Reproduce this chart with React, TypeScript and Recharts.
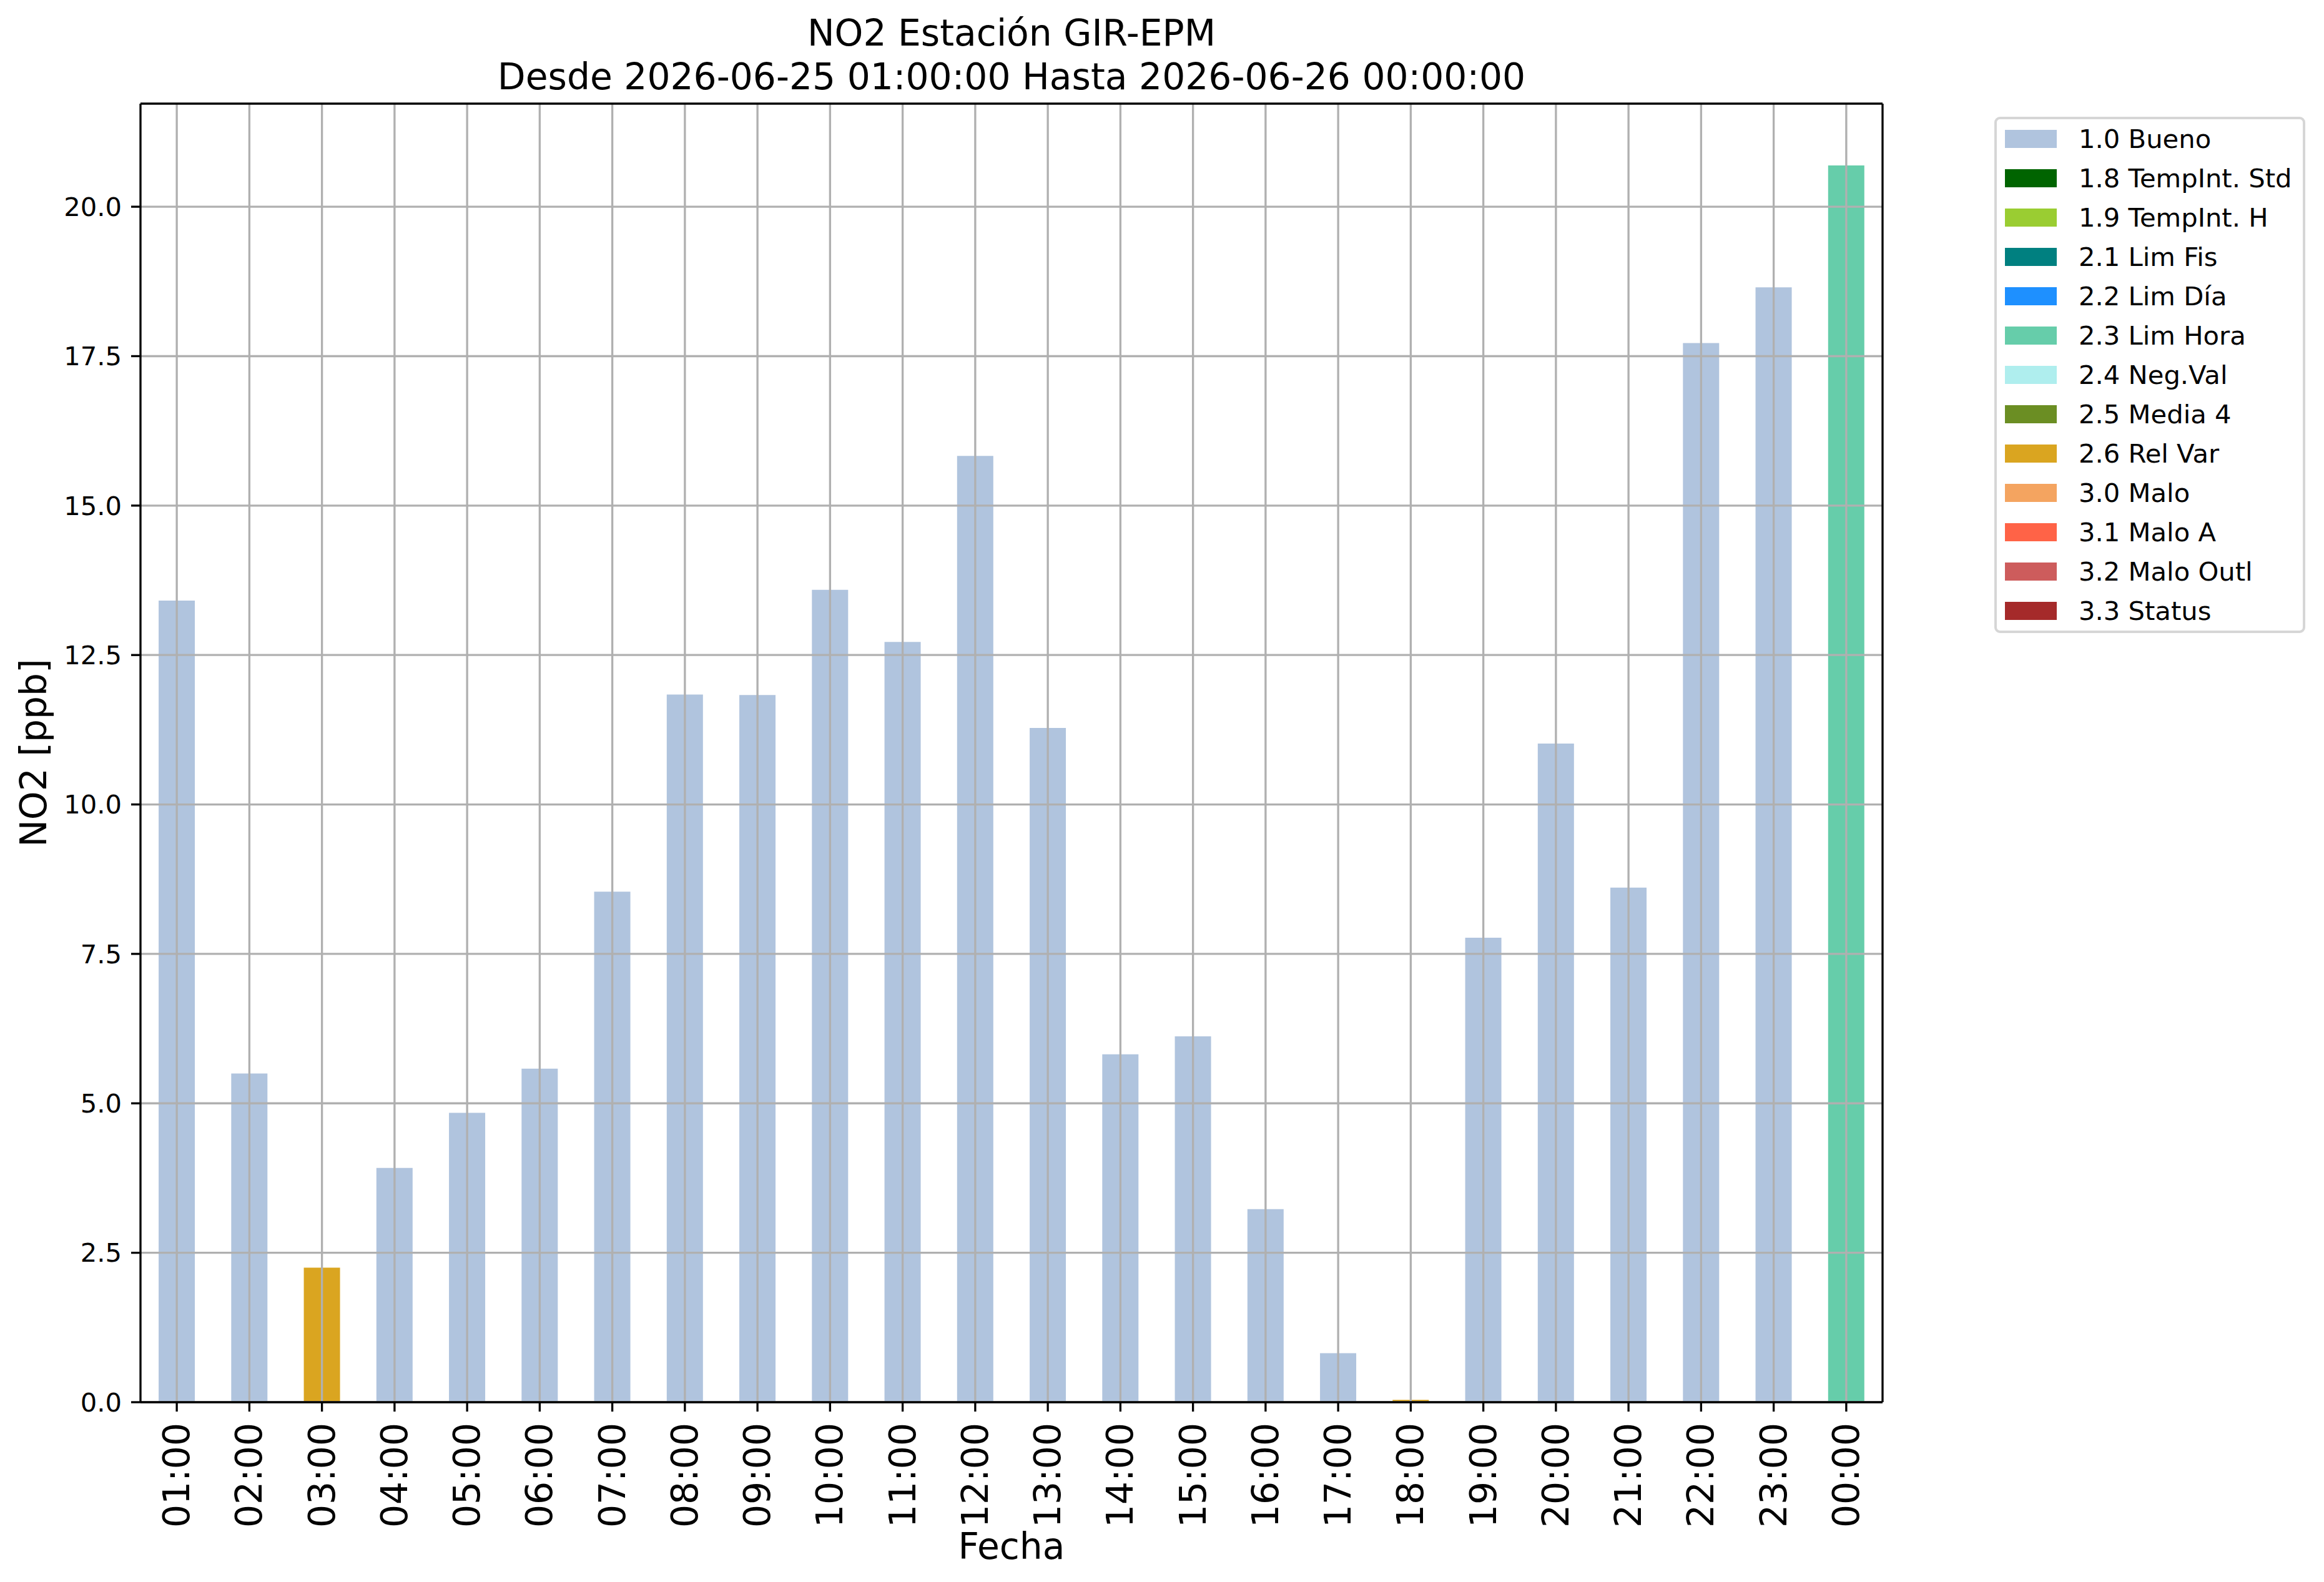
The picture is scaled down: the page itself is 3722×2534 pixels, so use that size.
import React from 'react';
import { BarChart, Bar, XAxis, YAxis, CartesianGrid, Legend } from 'recharts';

const hours = ['01:00','02:00','03:00','04:00','05:00','06:00','07:00','08:00','09:00','10:00','11:00','12:00','13:00','14:00','15:00','16:00','17:00','18:00','19:00','20:00','21:00','22:00','23:00','00:00'];
const values = [13.41, 5.50, 2.25, 3.92, 4.84, 5.58, 8.54, 11.84, 11.83, 13.59, 12.72, 15.83, 11.28, 5.82, 6.12, 3.23, 0.82, 0.04, 7.77, 11.02, 8.61, 17.72, 18.65, 20.69];
const flags = ['1.0 Bueno','1.0 Bueno','2.6 Rel Var','1.0 Bueno','1.0 Bueno','1.0 Bueno','1.0 Bueno','1.0 Bueno','1.0 Bueno','1.0 Bueno','1.0 Bueno','1.0 Bueno','1.0 Bueno','1.0 Bueno','1.0 Bueno','1.0 Bueno','1.0 Bueno','2.6 Rel Var','1.0 Bueno','1.0 Bueno','1.0 Bueno','1.0 Bueno','1.0 Bueno','2.3 Lim Hora'];

const seriesNames = ['1.0 Bueno','1.8 TempInt. Std','1.9 TempInt. H','2.1 Lim Fis','2.2 Lim Día','2.3 Lim Hora','2.4 Neg.Val','2.5 Media 4','2.6 Rel Var','3.0 Malo','3.1 Malo A','3.2 Malo Outl','3.3 Status'];
const seriesColors = ['#b0c4de','#006400','#9acd32','#008080','#1e90ff','#66cdaa','#afeeee','#6b8e23','#daa520','#f4a460','#ff6347','#cd5c5c','#a52a2a'];

const yTicks = [0, 2.5, 5, 7.5, 10, 12.5, 15, 17.5, 20];

const titleLine1 = 'NO2 Estación GIR-EPM';
const titleLine2 = 'Desde 2026-06-25 01:00:00 Hasta 2026-06-26 00:00:00';
const xLabel = 'Fecha';
const yLabel = 'NO2 [ppb]';

const data = hours.map((h, i) => {
  const row: Record<string, any> = { hour: h };
  row[flags[i]] = values[i];
  return row;
});

const yMax = Math.max(...values) * 1.05;

const FONT = '"DejaVu Sans", sans-serif';
const W = 3722;
const H = 2534;
const LW = 3.33;

const XTick = (props: any) => {
  const { x, y, payload } = props;
  return (
    <text
      x={x}
      y={y}
      transform={`rotate(-90, ${x}, ${y})`}
      textAnchor="end"
      dominantBaseline="central"
      fontFamily={FONT}
      fontSize={58.3}
      fill="#000"
    >
      {payload.value}
    </text>
  );
};

const LegendBox = () => (
  <div
    style={{
      boxSizing: 'border-box',
      width: 498,
      height: 827,
      border: '4px solid #d6d6d6',
      borderRadius: 9,
      background: '#fff',
      paddingLeft: 13,
      fontFamily: FONT,
      fontSize: 41.7,
      color: '#000',
    }}
  >
    {seriesNames.map((n, i) => (
      <div key={n} style={{ display: 'flex', alignItems: 'center', height: 63 }}>
        <div style={{ width: 83, height: 29, background: seriesColors[i], flexShrink: 0 }} />
        <span style={{ marginLeft: 35, whiteSpace: 'nowrap', lineHeight: 1 }}>{n}</span>
      </div>
    ))}
  </div>
);

export default function App() {
  return (
    <div style={{ position: 'absolute', left: 0, top: 0, width: W, height: H, background: '#fff' }}>
      <BarChart
        width={W}
        height={H}
        data={data}
        margin={{ top: 165, right: 706, bottom: 0, left: 0 }}
        barCategoryGap="25%"
      >
        <XAxis
          dataKey="hour"
          height={288}
          interval={0}
          tick={<XTick />}
          tickSize={15}
          tickMargin={18}
          axisLine={{ stroke: '#000', strokeWidth: LW }}
          tickLine={{ stroke: '#000', strokeWidth: LW }}
          zIndex={700}
        />
        <XAxis
          xAxisId="top"
          orientation="top"
          dataKey="hour"
          height={1}
          tick={false}
          tickLine={false}
          axisLine={{ stroke: '#000', strokeWidth: LW }}
          zIndex={700}
        />
        <YAxis
          width={225}
          domain={[0, yMax]}
          ticks={yTicks}
          interval={0}
          allowDataOverflow
          tickFormatter={(v: number) => v.toFixed(1)}
          tick={{ fill: '#000', fontSize: 41.7, fontFamily: FONT }}
          tickSize={15}
          tickMargin={15}
          axisLine={{ stroke: '#000', strokeWidth: LW }}
          tickLine={{ stroke: '#000', strokeWidth: LW }}
          zIndex={700}
        />
        <YAxis
          yAxisId="right"
          orientation="right"
          width={1}
          domain={[0, yMax]}
          tick={false}
          tickLine={false}
          axisLine={{ stroke: '#000', strokeWidth: LW }}
          zIndex={700}
        />
        {seriesNames.map((n, i) => (
          <Bar
            key={n}
            dataKey={n}
            name={n}
            stackId="q"
            fill={seriesColors[i]}
            isAnimationActive={false}
          />
        ))}
        <CartesianGrid
          stroke="#b0b0b0"
          strokeWidth={LW}
          syncWithTicks
          zIndex={500}
        />
        <Legend
          layout="vertical"
          align="center"
          verticalAlign="middle"
          wrapperStyle={{ left: 3194, top: 187, width: 498, height: 827 }}
          content={() => <LegendBox />}
        />
      </BarChart>
      <svg
        width={W}
        height={H}
        style={{ position: 'absolute', left: 0, top: 0, pointerEvents: 'none' }}
      >
        <text x={1620} y={73} textAnchor="middle" fontFamily={FONT} fontSize={58.3} fill="#000">{titleLine1}</text>
        <text x={1620} y={143} textAnchor="middle" fontFamily={FONT} fontSize={58.3} fill="#000">{titleLine2}</text>
        <text x={1620} y={2497} textAnchor="middle" fontFamily={FONT} fontSize={58.3} fill="#000">{xLabel}</text>
        <text
          x={74}
          y={1206}
          transform="rotate(-90, 74, 1206)"
          textAnchor="middle"
          fontFamily={FONT}
          fontSize={58.3}
          fill="#000"
        >
          {yLabel}
        </text>
      </svg>
    </div>
  );
}
